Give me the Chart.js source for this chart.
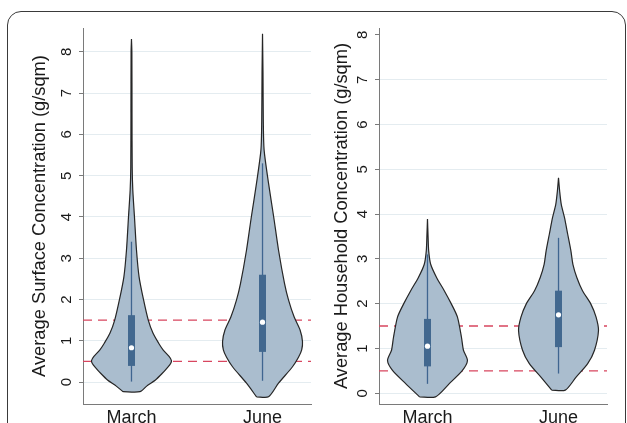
<!DOCTYPE html>
<html>
<head>
<meta charset="utf-8">
<script src="https://cdn.jsdelivr.net/npm/chart.js@4.4.1/dist/chart.umd.min.js"></script>
<style>
  html, body { margin: 0; padding: 0; background: #fff; overflow: hidden; }
  body { width: 627px; height: 423px; position: relative; }
  #frame { position: absolute; left: 7px; top: 11px; width: 619px; height: 460px;
           border: 1.3px solid #3a3a3a; border-radius: 14px; box-sizing: border-box; }
  .panel { position: absolute; top: 0; }
  #p1 { left: 0; }
  #p2 { left: 317px; }
</style>
</head>
<body>
<div id="frame"></div>
<div class="panel" id="p1"><canvas id="c1" width="317" height="450"></canvas></div>
<div class="panel" id="p2"><canvas id="c2" width="310" height="450"></canvas></div>
<script>
// categories + reference lines
const months = ['March', 'June'];
const monthPos = [1, 2];
const thresholds = [0.5, 1.5];
const yTicks = [0, 1, 2, 3, 4, 5, 6, 7, 8];

// surface panel - violin outlines (value, relative density)
const surfMarchLevels  = [-0.235, -0.1, 0.05, 0.2, 0.35, 0.45, 0.52, 0.62, 0.78, 0.94, 1.18, 1.5, 2.0, 2.55, 3.2, 4.0, 4.65, 5.2, 6.5, 8.0, 8.31];
const surfMarchDensity = [0.21, 0.38, 0.6, 0.76, 0.9, 0.98, 1.0, 0.94, 0.79, 0.68, 0.54, 0.42, 0.30, 0.19, 0.125, 0.075, 0.033, 0.018, 0.013, 0.01, 0];
const surfJuneLevels   = [-0.36, -0.03, 0.37, 0.6, 0.78, 0.98, 1.26, 1.58, 1.99, 2.39, 3.2, 4.0, 4.82, 5.62, 6.3, 7.5, 8.44];
const surfJuneDensity  = [0.15, 0.4, 0.75, 0.9, 0.98, 1.0, 0.94, 0.79, 0.65, 0.55, 0.4, 0.28, 0.15, 0.04, 0.02, 0.012, 0];
// surface panel - box stats [March, June]
const surfWhiskLow  = [0.01, 0.03];
const surfQ1        = [0.39, 0.73];
const surfMedian    = [0.83, 1.45];
const surfQ3        = [1.62, 2.6];
const surfWhiskHigh = [3.4, 5.3];

// household panel
const houseMarchLevels  = [-0.08, 0.21, 0.51, 0.73, 0.96, 1.25, 1.7, 1.99, 2.29, 2.58, 2.88, 3.18, 3.5, 3.89];
const houseMarchDensity = [0.2, 0.54, 0.875, 1.0, 0.9, 0.85, 0.75, 0.6, 0.42, 0.23, 0.08, 0.03, 0.015, 0];
const houseJuneLevels   = [0.07, 0.36, 0.66, 0.96, 1.4, 1.7, 1.99, 2.29, 2.58, 2.88, 3.18, 3.55, 3.92, 4.21, 4.5, 4.81];
const houseJuneDensity  = [0.17, 0.44, 0.73, 0.9, 1.0, 0.94, 0.81, 0.6, 0.46, 0.36, 0.31, 0.23, 0.15, 0.07, 0.03, 0];
const houseWhiskLow  = [0.21, 0.44];
const houseQ1        = [0.6, 1.03];
const houseMedian    = [1.05, 1.75];
const houseQ3        = [1.66, 2.29];
const houseWhiskHigh = [3.1, 3.47];

const X_MIN = 0.63, X_MAX = 2.37;
const HALF_W = 0.305;

Chart.defaults.font.family = "'Liberation Sans', Arial, sans-serif";
Chart.defaults.color = '#1a1a1a';

function violinPoints(center, levels, dens) {
    const pts = [];
    for (let i = 0; i < levels.length; i++) pts.push({x: center - dens[i] * HALF_W, y: levels[i]});
    for (let i = levels.length - 1; i >= 0; i--) pts.push({x: center + dens[i] * HALF_W, y: levels[i]});
    pts.push(pts[0]);
    return pts;
}

function buildDatasets(violins, wLow, q1, med, q3, wHigh) {
    const ds = [];
    thresholds.forEach(function(t) {
        ds.push({
            data: [{x: X_MIN, y: t}, {x: X_MAX, y: t}],
            borderColor: '#d8465f', borderWidth: 1.4, borderDash: [9, 6],
            pointRadius: 0, fill: false, order: 5
        });
    });
    monthPos.forEach(function(c, i) {
        ds.push({
            data: violinPoints(c, violins[i][0], violins[i][1]),
            fill: 'shape', backgroundColor: '#aabdce',
            borderColor: '#262626', borderWidth: 1.2,
            pointRadius: 0, tension: 0.25, order: 4
        });
        ds.push({
            data: [{x: c, y: wLow[i]}, {x: c, y: wHigh[i]}],
            borderColor: '#3f6590', borderWidth: 1.3, pointRadius: 0, fill: false, order: 3
        });
        ds.push({
            data: [{x: c, y: q1[i]}, {x: c, y: q3[i]}],
            borderColor: '#42688f', borderWidth: 7, borderCapStyle: 'butt',
            pointRadius: 0, fill: false, order: 2
        });
        ds.push({
            data: [{x: c, y: med[i]}],
            showLine: false, pointRadius: 2.6, pointBackgroundColor: '#ffffff',
            pointBorderWidth: 0, order: 1
        });
    });
    return ds;
}

function makeChart(id, opts) {
    new Chart(document.getElementById(id), {
        type: 'line',
        data: { datasets: opts.datasets },
        options: {
            responsive: false,
            animation: false,
            events: [],
            layout: { padding: { left: 0, top: 28, right: opts.padRight, bottom: 16 } },
            plugins: { legend: { display: false }, tooltip: { enabled: false } },
            scales: {
                x: {
                    type: 'linear', min: X_MIN, max: X_MAX,
                    afterBuildTicks: function(s) { s.ticks = monthPos.map(v => ({value: v})); },
                    afterFit: function(s) { s.height = 30; },
                    ticks: {
                        callback: function(v, i) { return months[i]; },
                        font: { size: 18 }, color: '#1a1a1a', padding: 3,
                        autoSkip: false, maxRotation: 0
                    },
                    grid: { display: false, drawTicks: false },
                    border: { display: true, color: '#7a7a7a', width: 1 }
                },
                y: {
                    type: 'linear', min: opts.yMin, max: opts.yMax,
                    afterBuildTicks: function(s) { s.ticks = yTicks.map(v => ({value: v})); },
                    afterCalculateLabelRotation: function(s) { s.labelRotation = 90; },
                    afterFit: function(s) { s.width = opts.axisWidth; },
                    ticks: {
                        minRotation: 90, maxRotation: 90, crossAlign: 'center',
                        padding: 8, font: { size: 15 }, color: '#1a1a1a'
                    },
                    grid: {
                        color: function(ctx) {
                            return (opts.noTopGrid && ctx.tick && ctx.tick.value === 8) ? 'rgba(0,0,0,0)' : '#e4ecf0';
                        },
                        lineWidth: 1, tickLength: 4, tickColor: '#7a7a7a'
                    },
                    border: { color: '#7a7a7a', width: 1 },
                    title: {
                        display: true, text: opts.title, color: '#1a1a1a',
                        font: { size: 18.3 }, padding: { top: opts.titlePad, bottom: 0 }
                    }
                }
            }
        }
    });
}

makeChart('c1', {
    datasets: buildDatasets(
        [[surfMarchLevels, surfMarchDensity], [surfJuneLevels, surfJuneDensity]],
        surfWhiskLow, surfQ1, surfMedian, surfQ3, surfWhiskHigh),
    yMin: -0.533, yMax: 8.58, axisWidth: 83, titlePad: 29, padRight: 6, noTopGrid: false,
    title: 'Average Surface Concentration (g/sqm)'
});

makeChart('c2', {
    datasets: buildDatasets(
        [[houseMarchLevels, houseMarchDensity], [houseJuneLevels, houseJuneDensity]],
        houseWhiskLow, houseQ1, houseMedian, houseQ3, houseWhiskHigh),
    yMin: -0.24, yMax: 8.155, axisWidth: 62, titlePad: 14, padRight: 20, noTopGrid: true,
    title: 'Average Household Concentration (g/sqm)'
});
</script>
</body>
</html>
